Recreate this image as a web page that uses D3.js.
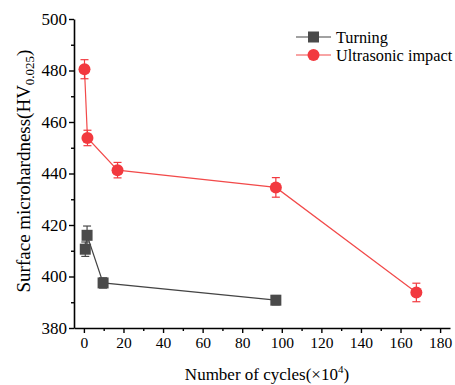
<!DOCTYPE html>
<html>
<head>
<meta charset="utf-8">
<script src="https://cdn.jsdelivr.net/npm/d3@7"></script>
<style>
  body { margin: 0; background: #fff; }
</style>
</head>
<body>
<svg width="455" height="385"></svg>
<script>
// data
const turningX = [0.7, 1.6, 9.7, 97];
const turningY = [410.6, 416, 397.5, 390.8];
const turningErr = [2.8, 3.6, 2.0, 1.8];

const impactX = [0.3, 1.8, 17, 97, 168];
const impactY = [480.5, 453.8, 441.3, 434.6, 393.8];
const impactErr = [3.7, 3.0, 3.0, 3.8, 3.6];

const xTicks = [0, 20, 40, 60, 80, 100, 120, 140, 160, 180];
const yTicks = [380, 400, 420, 440, 460, 480, 500];

const seriesNames = ["Turning", "Ultrasonic impact"];

const serif = "'Liberation Serif', 'Times New Roman', serif";
const svg = d3.select("svg");
const plotLeft = 74, plotRight = 450, plotTop = 19, plotBottom = 328;

// scales
const x = d3.scaleLinear().domain([-5, 185]).range([plotLeft, plotRight]);
const y = d3.scaleLinear().domain([380, 500]).range([plotBottom, plotTop]);

const toPoints = (xs, ys, es) => xs.map((d, i) => ({ x: d, y: ys[i], e: es[i] }));
const series = [
  { name: seriesNames[0], color: "#4a4a4a", line: "#444", shape: "square", pts: toPoints(turningX, turningY, turningErr) },
  { name: seriesNames[1], color: "#f2393f", line: "#f24a4a", shape: "circle", pts: toPoints(impactX, impactY, impactErr) },
];

// minor ticks
svg.append("g")
  .attr("transform", "translate(" + plotLeft + ",0)")
  .call(d3.axisLeft(y).tickValues(d3.range(390, 500, 20)).tickSize(3).tickFormat(""))
  .call(g => g.select(".domain").remove());
svg.append("g")
  .attr("transform", "translate(0," + plotBottom + ")")
  .call(d3.axisBottom(x).tickValues(d3.range(10, 190, 20)).tickSize(3).tickFormat(""))
  .call(g => g.select(".domain").remove());

// y axis
svg.append("g")
  .attr("class", "y-axis")
  .attr("transform", "translate(" + plotLeft + ",0)")
  .call(d3.axisLeft(y).tickValues(yTicks).tickSize(5).tickSizeOuter(0).tickPadding(2))
  .selectAll(".tick text").attr("font-size", "17px");

// x axis
svg.append("g")
  .attr("class", "x-axis")
  .attr("transform", "translate(0," + plotBottom + ")")
  .call(d3.axisBottom(x).tickValues(xTicks).tickSize(5).tickSizeOuter(0).tickPadding(4))
  .selectAll(".tick text").attr("font-size", "15.5px");

svg.selectAll(".domain").attr("stroke-width", 1.6).attr("stroke", "#000");
svg.selectAll(".tick line").attr("stroke-width", 1.4).attr("stroke", "#000");

// axis titles
const yTitle = svg.append("text")
  .attr("transform", "translate(30,171) rotate(-90)")
  .attr("text-anchor", "middle")
  .attr("font-size", "19px");
yTitle.append("tspan").text("Surface microhardness(HV");
yTitle.append("tspan").attr("dy", 4).attr("font-size", "13px").text("0.025");
yTitle.append("tspan").attr("dy", -4).text(")");

const xTitle = svg.append("text")
  .attr("x", 267).attr("y", 380)
  .attr("text-anchor", "middle")
  .attr("font-size", "17px");
xTitle.append("tspan").text("Number of cycles(×10");
xTitle.append("tspan").attr("dy", -7).attr("font-size", "11px").text("4");
xTitle.append("tspan").attr("dy", 7).text(")");

// lines, error bars, markers
const line = d3.line().x(d => x(d.x)).y(d => y(d.y));

function drawMarker(g, shape, color, cx, cy) {
  if (shape === "square") {
    g.append("rect").attr("x", cx - 5.5).attr("y", cy - 5.5)
      .attr("width", 11).attr("height", 11).attr("fill", color);
  } else {
    g.append("circle").attr("cx", cx).attr("cy", cy).attr("r", 6).attr("fill", color);
  }
}

series.forEach(s => {
  const g = svg.append("g");
  g.append("path").datum(s.pts)
    .attr("d", line).attr("fill", "none")
    .attr("stroke", s.line).attr("stroke-width", 1.2);

  s.pts.forEach(p => {
    const cx = x(p.x);
    g.append("line").attr("x1", cx).attr("x2", cx)
      .attr("y1", y(p.y - p.e)).attr("y2", y(p.y + p.e))
      .attr("stroke", s.color).attr("stroke-width", 1.2);
    [p.y - p.e, p.y + p.e].forEach(v => {
      g.append("line").attr("x1", cx - 4).attr("x2", cx + 4)
        .attr("y1", y(v)).attr("y2", y(v))
        .attr("stroke", s.color).attr("stroke-width", 1.2);
    });
    drawMarker(g, s.shape, s.color, cx, y(p.y));
  });
});

// legend
const legend = svg.append("g").attr("transform", "translate(296,37)");
series.forEach((s, i) => {
  const row = legend.append("g").attr("transform", "translate(0," + (i * 18) + ")");
  row.append("line").attr("x1", 0).attr("x2", 35).attr("y1", 0).attr("y2", 0)
    .attr("stroke", s.line).attr("stroke-width", 1.2);
  drawMarker(row, s.shape, s.color, 17.5, 0);
  row.append("text").attr("x", 40).attr("y", 5.5).attr("font-size", "16.3px").text(s.name);
});

// serif font everywhere (axis groups set their own sans-serif attribute)
svg.selectAll("g").attr("font-family", null);
svg.selectAll("text").attr("font-family", serif).attr("fill", "#000");
</script>
</body>
</html>
